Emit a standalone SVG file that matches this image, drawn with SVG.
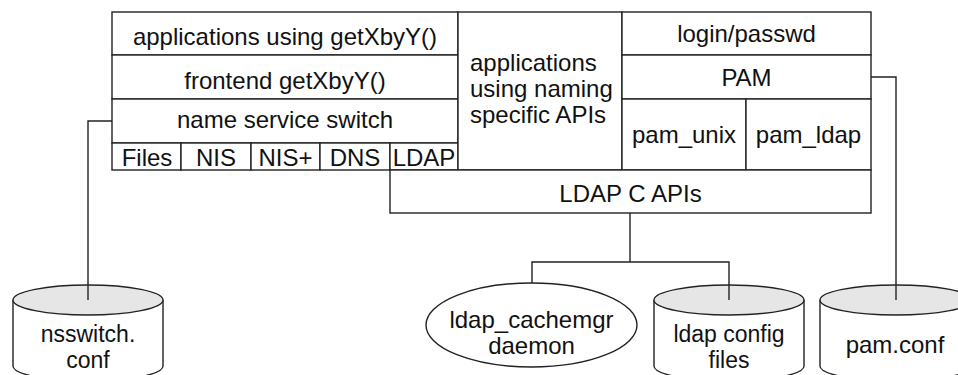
<svg xmlns="http://www.w3.org/2000/svg" width="958" height="375" viewBox="0 0 958 375">
<style>
.b{fill:#fff;stroke:#222;stroke-width:1.4}
.l{fill:none;stroke:#222;stroke-width:1.4}
.top{fill:#e6e6e6;stroke:#222;stroke-width:1.4}
text{font-family:"Liberation Sans",Arial,Helvetica,sans-serif;font-size:24px;fill:#111;text-anchor:middle}
.lt{text-anchor:start}
.s{font-size:23px}
</style>
<rect width="958" height="375" fill="#fff"/>
<g id="getxbyy-apps"><rect class="b" x="112" y="12" width="346" height="43"/><text x="285" y="45">applications using getXbyY()</text></g>
<g id="frontend"><rect class="b" x="112" y="55" width="346" height="44"/><text x="285" y="89">frontend getXbyY()</text></g>
<g id="nss"><rect class="b" x="112" y="99" width="346" height="44"/><text x="285" y="128">name service switch</text></g>
<g id="files"><rect class="b" x="112" y="143" width="69" height="27"/><text x="147" y="166">Files</text></g>
<g id="nis"><rect class="b" x="181" y="143" width="70" height="27"/><text x="216" y="166">NIS</text></g>
<g id="nisplus"><rect class="b" x="251" y="143" width="69" height="27"/><text x="285.5" y="166">NIS+</text></g>
<g id="dns"><rect class="b" x="320" y="143" width="70" height="27"/><text x="355" y="166">DNS</text></g>
<g id="ldap"><rect class="b" x="390" y="143" width="68" height="27"/><text x="424" y="166">LDAP</text></g>
<g id="naming-apps"><rect class="b" x="458" y="12" width="164" height="158"/><text class="lt" x="470" y="71">applications</text><text class="lt" x="470" y="97">using naming</text><text class="lt" x="470" y="123">specific APIs</text></g>
<g id="login"><rect class="b" x="622" y="12" width="249" height="43"/><text x="746.5" y="42">login/passwd</text></g>
<g id="pam"><rect class="b" x="622" y="55" width="249" height="44"/><text x="746.5" y="86">PAM</text></g>
<g id="pam-unix"><rect class="b" x="622" y="99" width="124" height="71"/><text x="684" y="143">pam_unix</text></g>
<g id="pam-ldap"><rect class="b" x="746" y="99" width="125" height="71"/><text x="808.5" y="143">pam_ldap</text></g>
<g id="ldap-c-apis"><rect class="b" x="390" y="170" width="481" height="43"/><text x="630.5" y="202">LDAP C APIs</text></g>
<g id="nsswitch-conf"><path class="b" d="M13 300 V366 A75 15 0 0 0 163 366 V300"/><ellipse class="top" cx="88" cy="300" rx="75" ry="15"/><text class="s" x="88" y="342">nsswitch.</text><text class="s" x="88" y="368">conf</text></g>
<g id="cachemgr"><ellipse class="b" cx="531.5" cy="325" rx="105.5" ry="42"/><text x="531.5" y="328">ldap_cachemgr</text><text x="531.5" y="354">daemon</text></g>
<g id="ldap-config"><path class="b" d="M654 300 V366 A75 15 0 0 0 804 366 V300"/><ellipse class="top" cx="729" cy="300" rx="75" ry="15"/><text class="s" x="729" y="342">ldap config</text><text class="s" x="729" y="368">files</text></g>
<g id="pam-conf"><path class="b" d="M820 300 V366 A76 15 0 0 0 972 366 V300"/><ellipse class="top" cx="896" cy="300" rx="76" ry="15"/><text x="895" y="353">pam.conf</text></g>
<g id="connectors">
<path class="l" d="M112 121 H88 V300"/>
<path class="l" d="M630 213 V262"/>
<path class="l" d="M532 283 V262 H729 V300"/>
<path class="l" d="M871 77 H896 V300"/>
</g>
</svg>
